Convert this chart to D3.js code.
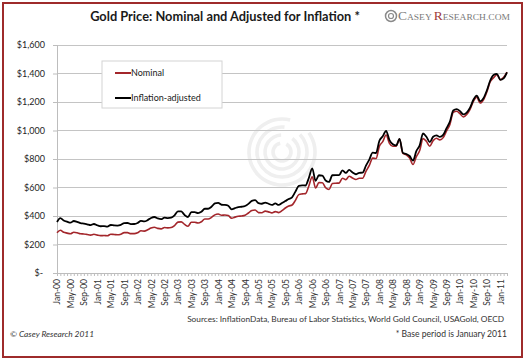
<!DOCTYPE html>
<html><head><meta charset="utf-8">
<script src="https://cdn.jsdelivr.net/npm/d3@7"></script>
<style>
html,body{margin:0;padding:0;background:#fff;}
svg{display:block;}
text{font-family:Lato,"Open Sans","DejaVu Sans",sans-serif;}
</style></head>
<body>
<svg id="chart" width="525" height="362"></svg>
<script>
const monthNames = ["Jan","Feb","Mar","Apr","May","Jun","Jul","Aug","Sep","Oct","Nov","Dec"];
const yearCodes = ["00","01","02","03","04","05","06","07","08","09","10","11"];

// Nominal gold price, monthly, Jan-00 .. Mar-11 (USD/oz)
const nominal = [
  282,300,286,280,275,286,282,275,274,270,266,272,
  266,262,263,261,272,270,268,272,283,283,276,276,
  282,296,294,303,315,321,313,310,319,317,319,333,
  357,359,341,328,356,356,351,360,379,379,390,408,
  414,405,407,403,384,392,398,400,405,421,439,442,
  424,423,434,429,422,431,424,438,456,470,477,510,
  550,555,557,611,675,596,634,633,598,586,628,630,
  631,665,655,679,667,656,665,665,713,755,806,803,
  890,922,968,910,889,890,940,839,830,807,761,816,
  859,943,924,890,929,946,934,950,997,1043,1127,1135,
  1118,1095,1113,1149,1205,1233,1193,1216,1271,1342,1370,1391,
  1356,1373,1410
];
// Inflation-adjusted (base Jan-11)
const adjusted = [
  358,385,368,360,353,365,359,350,347,342,336,344,
  335,328,329,325,337,334,333,338,350,351,343,344,
  351,366,362,371,386,393,383,378,388,385,388,405,
  433,432,407,393,427,427,420,429,451,451,465,488,
  492,479,478,472,447,455,463,465,470,485,506,511,
  490,486,494,486,478,488,478,491,505,519,531,571,
  611,615,614,668,734,647,686,684,649,639,686,687,
  687,720,702,723,706,693,703,704,753,796,845,842,
  928,959,998,933,904,895,941,843,835,821,789,855,
  896,979,956,919,956,966,955,969,1016,1063,1140,1150,
  1136,1113,1126,1160,1216,1245,1205,1227,1281,1351,1390,1398,
  1356,1366,1408
];
const tickLabels = [
  "Jan-00","May-00","Sep-00","Jan-01","May-01","Sep-01","Jan-02","May-02","Sep-02",
  "Jan-03","May-03","Sep-03","Jan-04","May-04","Sep-04","Jan-05","May-05","Sep-05",
  "Jan-06","May-06","Sep-06","Jan-07","May-07","Sep-07","Jan-08","May-08","Sep-08",
  "Jan-09","May-09","Sep-09","Jan-10","May-10","Sep-10","Jan-11"
];
const yTicks = [0,200,400,600,800,1000,1200,1400,1600];
const seriesNames = ["Nominal","Inflation-adjusted"];
const seriesColors = ["#a3262b","#000000"];

const categories = [];
yearCodes.forEach(y => monthNames.forEach(m => categories.push(m + "-" + y)));
categories.length = nominal.length;

const svg = d3.select("#chart");

// frame
svg.append("rect").attr("x",3).attr("y",3).attr("width",519).attr("height",354)
  .attr("fill","#fff").attr("stroke","#9e2b2b").attr("stroke-width",2);

const x = d3.scalePoint().domain(categories).range([57,507]);
const y = d3.scaleLinear().domain([0,1600]).range([273,45]);

// watermark
const wm = svg.append("g").attr("transform","translate(282,152)");
[9,17,25,33].forEach((r,i) => {
  const arc = d3.arc().innerRadius(r-1.8).outerRadius(r+1.8)
    .startAngle(0.5 + i*0.15).endAngle(2*Math.PI - 0.2 + i*0.15);
  wm.append("path").attr("d",arc()).attr("fill","#efefef");
});

// gridlines
svg.append("g").selectAll("line").data(yTicks.filter(d=>d>0)).join("line")
  .attr("x1",57).attr("x2",507).attr("y1",d=>y(d)).attr("y2",d=>y(d))
  .attr("stroke","#c4c4c4").attr("stroke-width",1).attr("shape-rendering","crispEdges");

// y axis
const yAxis = d3.axisLeft(y).tickValues(yTicks).tickSize(4).tickPadding(8)
  .tickFormat(d => d === 0 ? "$-" : "$" + d3.format(",")(d));
const gy = svg.append("g").attr("transform","translate(57,0)").call(yAxis);
gy.select(".domain").attr("stroke","#bdbdbd");
gy.selectAll(".tick line").attr("stroke","#bdbdbd");
gy.selectAll("text").attr("fill","#262626").style("font-size","9px").style("font-family","Lato,sans-serif");
gy.selectAll(".tick").filter(d=>d===0).select("text").attr("x",-14);

// x axis
const xAxis = d3.axisBottom(x).tickSize(3).tickFormat(d => tickLabels.includes(d) ? d : "");
const gx = svg.append("g").attr("transform","translate(0,273)").call(xAxis);
gx.select(".domain").attr("stroke","#bdbdbd");
gx.selectAll(".tick line").attr("stroke","#bdbdbd");
gx.selectAll("text")
  .attr("transform","rotate(-90)")
  .attr("text-anchor","end")
  .attr("x",-6).attr("y",0).attr("dy","0.35em")
  .attr("fill","#333").style("font-size","8.5px").style("font-family","Lato,sans-serif");

// lines
const line = d3.line().x((d,i)=>x(categories[i])).y(d=>y(d)).curve(d3.curveMonotoneX);
svg.append("path").datum(nominal).attr("d",line).attr("fill","none")
  .attr("stroke",seriesColors[0]).attr("stroke-width",1.6);
svg.append("path").datum(adjusted).attr("d",line).attr("fill","none")
  .attr("stroke",seriesColors[1]).attr("stroke-width",1.8);

// legend
const lg = svg.append("g");
lg.append("rect").attr("x",102).attr("y",61).attr("width",120).attr("height",47)
  .attr("fill","#fff").attr("stroke","#d4d4d4").attr("stroke-width",1);
seriesNames.forEach((n,i) => {
  const yy = 73 + i*25;
  lg.append("line").attr("x1",115).attr("x2",131).attr("y1",yy).attr("y2",yy)
    .attr("stroke",seriesColors[i]).attr("stroke-width",2);
  lg.append("text").attr("x",131).attr("y",yy).attr("dy","0.35em")
    .style("font-size","9px").attr("fill","#1a1a1a").text(n);
});

// title
svg.append("text").attr("x",225).attr("y",21).attr("text-anchor","middle")
  .style("font-size","12.8px").style("font-weight","bold").attr("fill","#1a1a1a")
  .text("Gold Price: Nominal and Adjusted for Inflation *");

// logo
const logo = svg.append("g");
logo.append("circle").attr("cx",391).attr("cy",16).attr("r",5.5).attr("fill","none")
  .attr("stroke","#8a8a8a").attr("stroke-width",1.5);
logo.append("circle").attr("cx",391).attr("cy",16).attr("r",2.5).attr("fill","none")
  .attr("stroke","#8a8a8a").attr("stroke-width",1.2);
const lt = logo.append("text").attr("x",398).attr("y",20)
  .attr("textLength",112).attr("lengthAdjust","spacingAndGlyphs")
  .style("font-family","'Liberation Serif',serif").attr("fill","#7a7a7a");
lt.append("tspan").style("font-size","12px").text("C");
lt.append("tspan").style("font-size","8.5px").text("ASEY ");
lt.append("tspan").style("font-size","12px").attr("fill","#9e3a3a").text("R");
lt.append("tspan").style("font-size","8.5px").text("ESEARCH.COM");

// footer
svg.append("text").attr("x",504).attr("y",322).attr("text-anchor","end")
  .style("font-size","8.3px").attr("fill","#333")
  .text("Sources: InflationData, Bureau of Labor Statistics, World Gold Council, USAGold, OECD");
svg.append("text").attr("x",10).attr("y",337)
  .style("font-size","8.4px").style("font-style","italic").attr("fill","#333")
  .text("© Casey Research 2011");
svg.append("text").attr("x",507).attr("y",337).attr("text-anchor","end")
  .style("font-size","8.6px").attr("fill","#333")
  .text("* Base period is January 2011");
</script>
</body></html>
